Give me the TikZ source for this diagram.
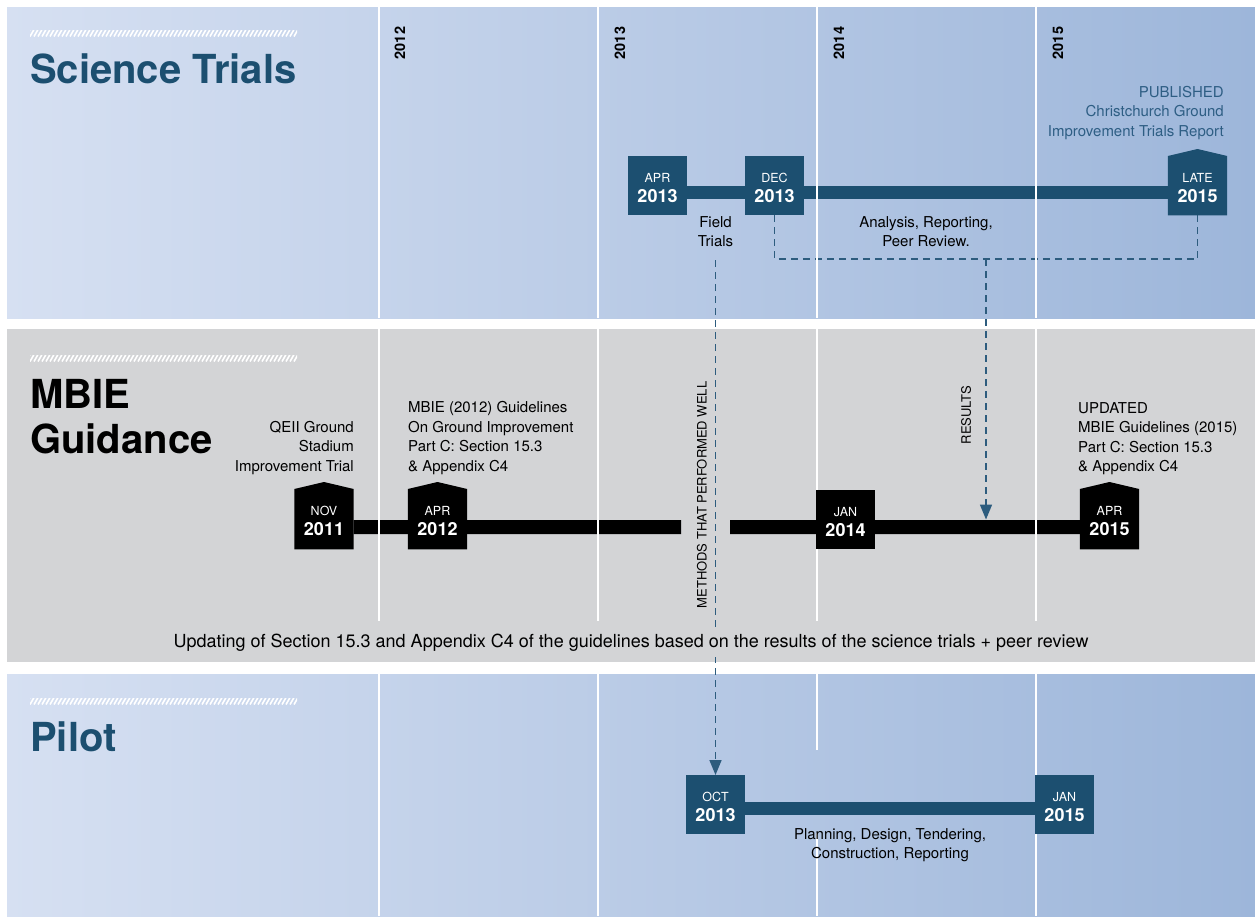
\documentclass[tikz,border=0pt]{standalone}
\usepackage{fontspec}
\setmainfont{TeX Gyre Heros}
\usetikzlibrary{arrows.meta,calc}
\definecolor{bandL}{RGB}{214,224,242}
\definecolor{bandR}{RGB}{157,182,218}
\definecolor{gband}{RGB}{211,212,214}
\definecolor{badgeblue}{RGB}{28,79,112}
\definecolor{dashblue}{RGB}{45,92,126}
\definecolor{pubblue}{RGB}{46,94,132}
\tikzset{
 bodytext/.style={font=\fontsize{15}{19.5}\selectfont, text=black, inner sep=0pt},
 yearlab/.style={font=\bfseries\fontsize{14.5}{16}\selectfont, rotate=90, inner sep=0pt},
 sidelab/.style={font=\fontsize{13}{15}\selectfont, rotate=90, inner sep=0pt},
 gridline/.style={white, line width=2pt},
 bluebar/.style={badgeblue, line width=13pt},
 blackbar/.style={black, line width=14pt},
 dashline/.style={dashblue, line width=1.6pt, dash pattern=on 7pt off 5pt},
 dasharrow/.style={dashline, -{Triangle[length=15pt,width=12pt]}},
 boxsq/.style={minimum width=59pt, inner sep=0pt, draw=none},
 monthtxt/.style={font=\fontsize{12.5}{14}\selectfont, text=white, inner sep=0pt},
 yeartxt/.style={font=\bfseries\fontsize{18}{20}\selectfont, text=white, inner sep=0pt},
 titletxt/.style={font=\bfseries\fontsize{40}{45}\selectfont, inner sep=0pt},
 hatchline/.style={white, line width=1.6pt},
}
\newcommand\mybadge[4]{\node[boxsq, minimum height=#4pt, anchor=north] (#1) at (#2,#3) {};}
\newcommand\mysqfill[2]{\fill[#2] (#1.north west) rectangle (#1.south east);}
\newcommand\mypentfill[2]{\fill[#2] (#1.north west) -- ([yshift=7pt]#1.north) -- (#1.north east) -- (#1.south east) -- (#1.south west) -- cycle;}
\newcommand\mybtext[3]{\node[monthtxt] (#1m) at ([yshift=-22pt]#1.north) {#2};
  \node[yeartxt] (#1y) at ([yshift=-40pt]#1.north) {#3};}
\newcommand\myhatch[1]{\begin{scope}
  \clip (30,#1-3) rectangle (297,#1+3);
  \foreach \i in {0,...,69} {\draw[hatchline] ({26+4*\i},#1+3.5) -- ({30+4*\i},#1-3.5);}
  \end{scope}}
\begin{document}
\begin{tikzpicture}[x=1pt,y=-1pt]
\useasboundingbox (0,0) rectangle (1255,916);
\fill[white] (0,0) rectangle (1255,916);
% bands
\fill[left color=bandL, right color=bandR] (7,7) rectangle (1255,318);
\fill[gband] (7,329) rectangle (1255,662);
\fill[left color=bandL, right color=bandR] (7,674) rectangle (1255,916);
% hatch rules
\myhatch{33}
\myhatch{358}
\myhatch{701}
% badge shapes (invisible nodes, filled later)
\mybadge{apr13}{657.5}{156}{59}
\mybadge{dec13}{774.5}{156}{59}
\mybadge{late15}{1197.5}{156}{59}
\mybadge{nov11}{324}{489}{60}
\mybadge{apr12}{437.5}{489}{60}
\mybadge{jan14}{845.5}{490}{59}
\mybadge{apr15}{1109.5}{489}{60}
\mybadge{oct13}{715.5}{775}{59}
\mybadge{jan15}{1064.5}{775}{59}
\coordinate (gapL) at (681,527);
\coordinate (gapR) at (730,527);
\coordinate (junc) at (986,259);
\coordinate (resbar) at (986,519.5);
% bars
\draw[bluebar] ([yshift=-7pt]apr13.east) -- ([yshift=-7pt]late15.west);
\draw[blackbar] ([yshift=-8pt]nov11.east) -- (gapL);
\draw[blackbar] (gapR) -- ([yshift=-8pt]apr15.west);
\draw[bluebar] ([yshift=-3.5pt]oct13.east) -- ([yshift=-3.5pt]jan15.west);
% dashed connectors of the science trials
\draw[dashline] (dec13.south) |- (junc) -| (late15.south);
\draw[dasharrow] (junc) -- (resbar);
% grid lines
\foreach \x in {379,598,817,1036} {
  \draw[gridline] (\x,7) -- (\x,318);
  \draw[gridline] (\x,329) -- (\x,621);
}
\foreach \x in {379,598,1036} {\draw[gridline] (\x,674) -- (\x,916);}
\draw[gridline] (817,674) -- (817,750);
\draw[gridline] (817,833) -- (817,916);
% badges
\mysqfill{apr13}{badgeblue}
\mysqfill{dec13}{badgeblue}
\mypentfill{late15}{badgeblue}
\mypentfill{nov11}{black}
\mypentfill{apr12}{black}
\mysqfill{jan14}{black}
\mypentfill{apr15}{black}
\mysqfill{oct13}{badgeblue}
\mysqfill{jan15}{badgeblue}
\mybtext{apr13}{APR}{2013}
\mybtext{dec13}{DEC}{2013}
\mybtext{late15}{LATE}{2015}
\mybtext{nov11}{NOV}{2011}
\mybtext{apr12}{APR}{2012}
\mybtext{jan14}{JAN}{2014}
\mybtext{apr15}{APR}{2015}
\mybtext{oct13}{OCT}{2013}
\mybtext{jan15}{JAN}{2015}
% titles
\node[titletxt, text=badgeblue, anchor=base west] (tsci) at (30,83.5) {Science Trials};
\node[titletxt, text=black, anchor=north west, align=left] (tmbie) at (30,379.5) {MBIE\\Guidance};
\node[titletxt, text=badgeblue, anchor=base west] (tpilot) at (30,751) {Pilot};
% year labels
\node[yearlab] (y2012) at (400,43) {2012};
\node[yearlab] (y2013) at (620,43) {2013};
\node[yearlab] (y2014) at (839,43) {2014};
\node[yearlab] (y2015) at (1058,43) {2015};
% texts
\node[bodytext, text=pubblue, anchor=north east, align=right] (pub) at (1224,86) {PUBLISHED\\Christchurch Ground\\Improvement Trials Report};
\node[bodytext, anchor=north, align=center] (field) at (715.5,216) {Field\\Trials};
\node[bodytext, anchor=north, align=center] (anal) at (926,216) {Analysis, Reporting,\\Peer Review.};
\node[bodytext, anchor=north east, align=right] (qeii) at (354,421) {QEII Ground\\Stadium\\Improvement Trial};
\node[bodytext, anchor=north west, align=left] (mbie12) at (408,401.5) {MBIE (2012) Guidelines\\On Ground Improvement\\Part C: Section 15.3\\\& Appendix C4};
\node[bodytext, anchor=north west, align=left] (upd) at (1078,402) {UPDATED\\MBIE Guidelines (2015)\\Part C: Section 15.3\\\& Appendix C4};
\node[bodytext, anchor=north, align=center] (plan) at (890,828) {Planning, Design, Tendering,\\Construction, Reporting};
\node[sidelab] (methods) at (702,495) {METHODS THAT PERFORMED WELL};
\node[sidelab] (results) at (966,415) {RESULTS};
% dashed arrow from field trials to the pilot
\draw[dasharrow] ([yshift=-13pt]field.south) -- (oct13.north);
\node[bodytext, font=\fontsize{18}{20}\selectfont, fill=gband, inner ysep=6pt, inner xsep=2pt, anchor=base] (updating) at (631,647) {Updating of Section 15.3 and Appendix C4 of the guidelines based on the results of the science trials + peer review};
\end{tikzpicture}
\end{document}
